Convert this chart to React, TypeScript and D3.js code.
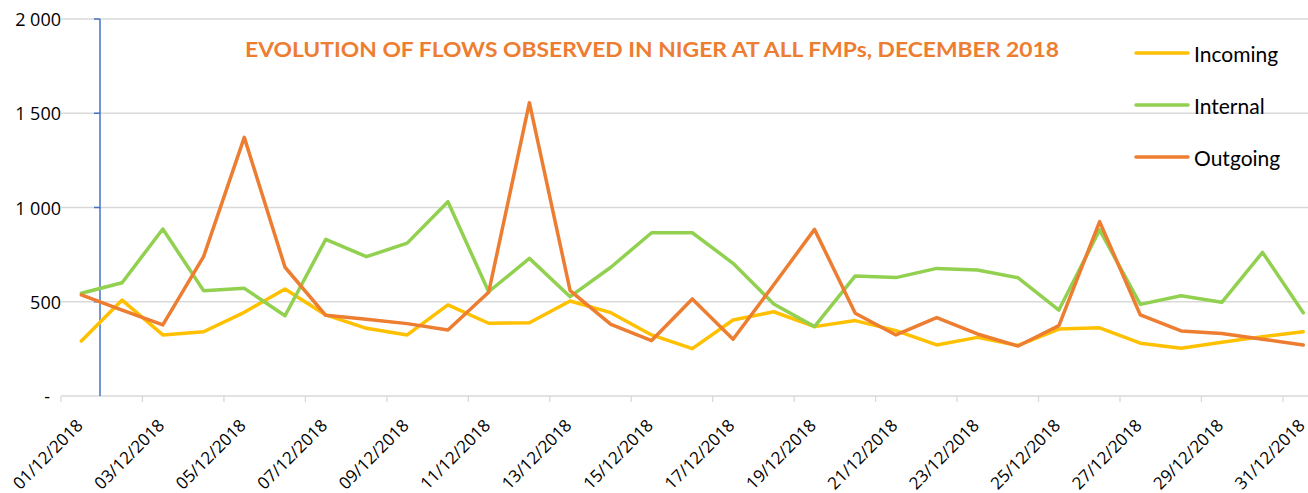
import { scaleLinear, scaleBand, line } from "d3";

const width = 1308;
const height = 493;

const dates = [
  "01/12/2018", "02/12/2018", "03/12/2018", "04/12/2018", "05/12/2018", "06/12/2018",
  "07/12/2018", "08/12/2018", "09/12/2018", "10/12/2018", "11/12/2018", "12/12/2018",
  "13/12/2018", "14/12/2018", "15/12/2018", "16/12/2018", "17/12/2018", "18/12/2018",
  "19/12/2018", "20/12/2018", "21/12/2018", "22/12/2018", "23/12/2018", "24/12/2018",
  "25/12/2018", "26/12/2018", "27/12/2018", "28/12/2018", "29/12/2018", "30/12/2018",
  "31/12/2018",
];

const incoming = [
  292, 509, 324, 341, 444, 568, 430, 359, 324, 483, 386, 389, 504, 442, 324, 251,
  403, 447, 368, 400, 347, 271, 311, 268, 355, 362, 280, 253, 285, 315, 341,
];
const internal = [
  545, 601, 886, 559, 571, 426, 831, 739, 811, 1031, 553, 730, 527, 683, 866, 866,
  704, 488, 368, 637, 628, 677, 668, 627, 456, 881, 486, 532, 497, 762, 442,
];
const outgoing = [
  536, 456, 377, 739, 1372, 683, 428, 407, 384, 350, 550, 1556, 559, 380, 294, 515,
  301, 590, 884, 439, 324, 416, 329, 265, 373, 925, 430, 345, 332, 301, 271,
];

const yTicks = [0, 500, 1000, 1500, 2000];
const yTickLabels = ["-", "500", "1 000", "1 500", "2 000"];

const seriesNames = ["Incoming", "Internal", "Outgoing"];
const seriesColors = ["#FFC000", "#92D050", "#ED7D31"];
const seriesData = [incoming, internal, outgoing];

const plotLeft = 61;
const plotTop = 19;
const plotBottom = 396;
const bandW = 40.73;

const App = () => {
  const x = scaleBand<string>()
    .domain(dates)
    .range([plotLeft, plotLeft + bandW * dates.length]);
  const cx = (d: string) => x(d)! + x.bandwidth() / 2;
  const y = scaleLinear().domain([0, 2000]).range([plotBottom, plotTop]);

  const lineGen = line<number>()
    .x((_, i) => cx(dates[i]))
    .y((v) => y(v));

  const tickDates = dates.filter((_, i) => i % 2 === 0);

  return (
    <svg
      width={width}
      height={height}
      style={{ position: "absolute", left: 0, top: 0, background: "#fff" }}
    >
      {/* gridlines */}
      {yTicks.map((t) => (
        <line
          key={t}
          x1={plotLeft}
          x2={width}
          y1={y(t)}
          y2={y(t)}
          stroke="#d9d9d9"
          strokeWidth={1.3}
        />
      ))}
      {/* x ticks every 2 categories */}
      {tickDates.map((d) => (
        <line
          key={d}
          x1={x(d)!}
          x2={x(d)!}
          y1={plotBottom}
          y2={plotBottom + 6}
          stroke="#d9d9d9"
          strokeWidth={1.3}
        />
      ))}
      {/* y labels */}
      {yTicks.map((t, i) => (
        <text
          key={t}
          x={t === 0 ? 50 : 61}
          y={y(t)}
          textAnchor="end"
          dominantBaseline="central"
          fontFamily="'Open Sans', sans-serif"
          fontSize={18}
          fill="#000"
        >
          {yTickLabels[i]}
        </text>
      ))}
      {/* blue vertical line */}
      <line x1={100} x2={100} y1={plotTop} y2={plotBottom} stroke="#4472C4" strokeWidth={1.5} />
      {yTicks
        .filter((t) => t > 0)
        .map((t) => (
          <line key={t} x1={94} x2={100} y1={y(t)} y2={y(t)} stroke="#4472C4" strokeWidth={1.5} />
        ))}
      {/* x labels */}
      {tickDates.map((d) => (
        <text
          key={d}
          transform={`translate(${cx(d) - 2},${plotBottom + 26}) rotate(-45)`}
          textAnchor="end"
          dominantBaseline="central"
          fontFamily="'Open Sans', sans-serif"
          fontSize={17}
          fill="#000"
        >
          {d}
        </text>
      ))}
      {/* series */}
      {seriesData.map((s, i) => (
        <path
          key={seriesNames[i]}
          d={lineGen(s)!}
          fill="none"
          stroke={seriesColors[i]}
          strokeWidth={3.5}
          strokeLinejoin="round"
          strokeLinecap="round"
        />
      ))}
      {/* title */}
      <text
        x={652}
        y={49}
        textAnchor="middle"
        dominantBaseline="central"
        fontFamily="Lato, sans-serif"
        fontWeight="bold"
        fontSize={20}
        fill="#ED7D31"
        textLength={814}
        lengthAdjust="spacingAndGlyphs"
      >
        EVOLUTION OF FLOWS OBSERVED IN NIGER AT ALL FMPs, DECEMBER 2018
      </text>
      {/* legend */}
      {seriesNames.map((n, i) => {
        const ly = 53 + i * 52;
        return (
          <g key={n}>
            <line
              x1={1136}
              x2={1188}
              y1={ly}
              y2={ly}
              stroke={seriesColors[i]}
              strokeWidth={3.5}
              strokeLinecap="round"
            />
            <text
              x={1194}
              y={ly}
              dominantBaseline="central"
              fontFamily="Lato, sans-serif"
              fontSize={21}
              fill="#000"
            >
              {n}
            </text>
          </g>
        );
      })}
    </svg>
  );
};

export default App;
